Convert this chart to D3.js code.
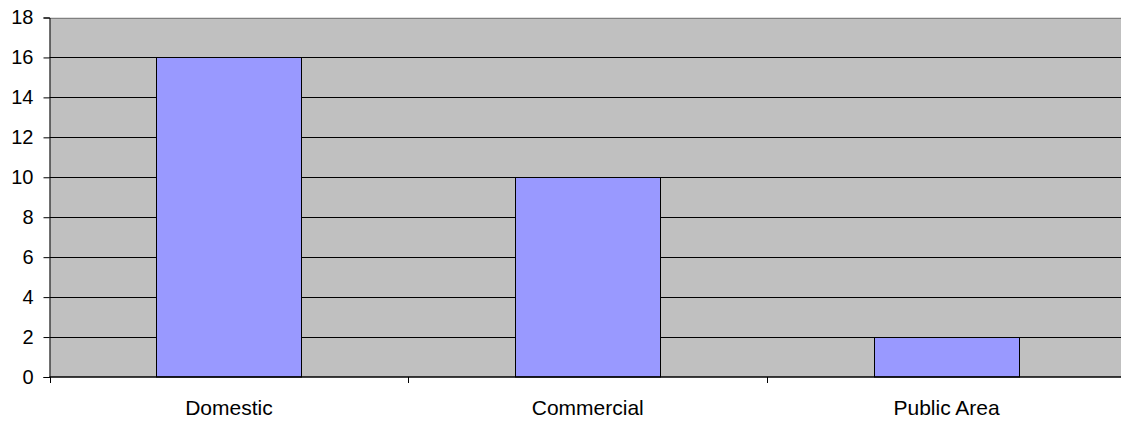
<!DOCTYPE html>
<meta charset="utf-8">
<head>
<script src="https://d3js.org/d3.v7.min.js"></script>
<style>
  body { margin: 0; background: #fff; }
  text { font-family: "Liberation Sans", Arial, sans-serif; }
</style>
</head>
<body>
<svg id="chart" width="1121" height="421"></svg>
<script>
// data
var categories = ["Domestic", "Commercial", "Public Area"];
var counts = [16, 10, 2];
var yTicks = [0, 2, 4, 6, 8, 10, 12, 14, 16, 18];

var svg = d3.select("#chart");
var plotL = 49.5, plotT = 17.5, plotB = 377, plotR = 1126;

var x = d3.scaleBand()
    .domain(categories)
    .range([plotL, plotR])
    .paddingInner(0)
    .paddingOuter(0);

var y = d3.scaleLinear()
    .domain([0, 18])
    .range([plotB, plotT]);

// plot area
svg.append("rect")
    .attr("x", plotL).attr("y", plotT)
    .attr("width", plotR - plotL).attr("height", plotB - plotT)
    .attr("fill", "#c0c0c0");

// gridlines
svg.selectAll(".grid")
    .data(yTicks.filter(function(d) { return d > 0; }))
  .enter().append("line")
    .attr("x1", plotL).attr("x2", plotR)
    .attr("y1", function(d) { return Math.round(y(d)) + 0.5; })
    .attr("y2", function(d) { return Math.round(y(d)) + 0.5; })
    .attr("stroke", function(d) { return d === 18 ? "#808080" : "#000"; })
    .attr("stroke-width", 1);

// bars
var barW = 145;
svg.selectAll(".bar")
    .data(counts)
  .enter().append("rect")
    .attr("x", function(d, i) { return Math.round(x(categories[i]) + (x.bandwidth() - barW) / 2) + 0.5; })
    .attr("y", function(d) { return Math.round(y(d)) + 0.5; })
    .attr("width", barW)
    .attr("height", function(d) { return plotB - Math.round(y(d)) - 0.5; })
    .attr("fill", "#9999ff")
    .attr("stroke", "#000")
    .attr("stroke-width", 1);

// y axis
var yAxis = d3.axisLeft(y).tickValues(yTicks).tickSize(6).tickPadding(10);
var gy = svg.append("g")
    .attr("transform", "translate(" + plotL + ",0)")
    .call(yAxis);
gy.select(".domain").attr("stroke", "#000");
gy.selectAll("text").attr("font-size", 20).attr("fill", "#000")
    .style("font-family", "'Liberation Sans', Arial, sans-serif");

// x axis
var gx = svg.append("g")
    .attr("transform", "translate(0," + plotB + ")");
gx.append("line")
    .attr("x1", plotL).attr("x2", plotR)
    .attr("y1", 0).attr("y2", 0)
    .attr("stroke", "#000").attr("stroke-width", 1.5);
gx.selectAll(".xtick")
    .data(categories.concat(["end"]))
  .enter().append("line")
    .attr("x1", function(d, i) { return Math.round(plotL + i * x.step()) + 0.5; })
    .attr("x2", function(d, i) { return Math.round(plotL + i * x.step()) + 0.5; })
    .attr("y1", 0).attr("y2", 6)
    .attr("stroke", "#000");
gx.selectAll(".xlabel")
    .data(categories)
  .enter().append("text")
    .attr("x", function(d) { return x(d) + x.bandwidth() / 2; })
    .attr("y", 38)
    .attr("text-anchor", "middle")
    .attr("font-size", 21)
    .text(function(d) { return d; });
</script>
</body>
